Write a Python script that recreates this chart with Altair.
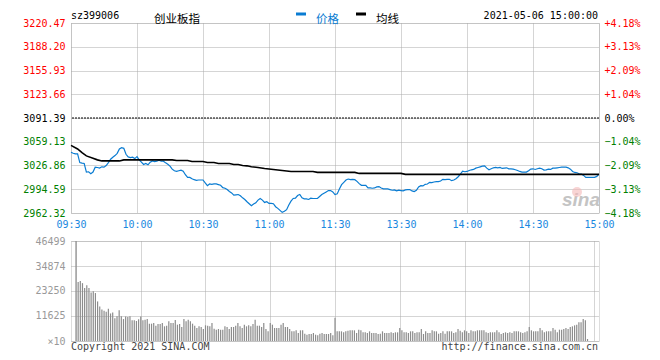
import altair as alt
import pandas as pd

# ---------------- data ----------------
prev_close = 3091.39
price_ticks = [2962.32, 2994.59, 3026.86, 3059.13, 3091.39, 3123.66, 3155.93, 3188.20, 3220.47]
pct_ticks = [-4.18, -3.13, -2.09, -1.04, 0.0, 1.04, 2.09, 3.13, 4.18]
time_ticks = [0, 30, 60, 90, 120, 150, 180, 210, 240]
time_labels = ["09:30", "10:00", "10:30", "11:00", "11:30", "13:30", "14:00", "14:30", "15:00"]
vol_ticks = [0, 11625, 23250, 34874, 46499]

minutes = list(range(241))
price = [
    3044.79, 3043.44, 3042.55, 3042.55, 3030.89, 3030.00, 3029.55, 3017.90, 3018.35, 3015.66,
    3017.90, 3024.62, 3024.17, 3023.28, 3025.07, 3024.62, 3026.86, 3030.89, 3035.38, 3038.07,
    3040.31, 3043.44, 3049.27, 3051.06, 3050.17, 3042.10, 3038.51, 3037.62, 3038.07, 3036.27,
    3038.96, 3034.48, 3031.34, 3028.21, 3029.55, 3027.76, 3031.34, 3033.14, 3032.24, 3032.69,
    3034.03, 3032.69, 3032.69, 3030.45, 3028.65, 3025.97, 3021.93, 3019.69, 3018.79, 3019.69,
    3020.59, 3019.24, 3014.31, 3010.73, 3010.73, 3008.93, 3007.59, 3006.69, 3007.14, 3007.14,
    3007.14, 3003.11, 2999.52, 3001.76, 3001.32, 3001.76, 3001.76, 3000.87, 2999.97, 2996.83,
    2995.94, 2994.14, 2991.45, 2989.66, 2986.52, 2986.97, 2987.42, 2985.63, 2982.94, 2980.70,
    2977.56, 2974.87, 2972.18, 2974.42, 2976.22, 2979.80, 2982.04, 2979.80, 2976.66, 2977.56,
    2975.32, 2975.32, 2974.87, 2970.84, 2968.60, 2965.91, 2963.22, 2964.56, 2966.80, 2973.08,
    2978.46, 2982.04, 2982.49, 2986.08, 2987.42, 2982.94, 2981.59, 2981.59, 2980.70, 2982.49,
    2982.04, 2982.04, 2982.04, 2984.73, 2987.42, 2989.21, 2991.00, 2992.80, 2992.80, 2991.00,
    2987.42, 2988.31, 2995.04, 3000.87, 3004.01, 3007.14, 3008.48, 3007.59, 3008.04, 3007.59,
    3005.35, 3002.21, 2999.97, 2999.97, 2999.97, 2996.38, 2996.38, 2995.94, 2996.38, 2997.73,
    2998.18, 2996.38, 2995.04, 2995.04, 2995.04, 2994.14, 2993.25, 2993.70, 2992.35, 2993.25,
    2992.80, 2992.35, 2993.70, 2994.14, 2994.14, 2992.35, 2991.45, 2993.25, 2997.73, 2999.52,
    2999.07, 3001.32, 3001.76, 3004.01, 3003.56, 3004.45, 3004.90, 3004.90, 3005.80, 3008.04,
    3007.59, 3008.04, 3008.04, 3006.25, 3007.14, 3008.93, 3011.62, 3015.21, 3019.24, 3018.35,
    3018.79, 3020.14, 3021.03, 3021.48, 3023.28, 3024.17, 3025.07, 3025.97, 3026.41, 3023.28,
    3021.03, 3022.38, 3023.72, 3024.17, 3023.72, 3024.17, 3022.83, 3023.28, 3023.72, 3022.38,
    3022.38, 3021.93, 3021.03, 3020.14, 3018.79, 3017.90, 3017.90, 3017.90, 3019.69, 3021.93,
    3022.38, 3021.48, 3022.38, 3023.28, 3022.38, 3020.59, 3021.03, 3021.93, 3021.48, 3023.28,
    3023.28, 3023.72, 3024.17, 3024.62, 3024.62, 3024.62, 3023.72, 3021.93, 3018.79, 3017.45,
    3017.00, 3015.66, 3015.21, 3013.42, 3010.73, 3010.73, 3010.73, 3010.73, 3010.73, 3012.07,
    3015.21,
]

avg_minutes = [0, 3, 5, 7, 10, 12, 14, 22, 24, 46, 48, 53, 55, 60, 62, 65, 67, 72, 74, 76,
               78, 80, 82, 85, 88, 92, 96, 100, 110, 112, 129, 131, 150, 152, 240]
avg_values = [3054.2, 3049.3, 3044.3, 3039.9, 3036.7, 3034.5, 3033.1, 3033.1, 3034.5, 3034.5,
              3033.6, 3033.6, 3032.2, 3032.2, 3030.9, 3030.9, 3029.6, 3029.6, 3028.2, 3028.2,
              3026.9, 3026.4, 3025.1, 3024.2, 3022.8, 3021.5, 3020.1, 3018.8, 3018.8, 3017.5,
              3017.5, 3016.1, 3016.1, 3014.8, 3014.8]

volume = [
    46499,
    27400, 27900, 26900, 24600, 25900, 24600, 22600, 23100, 22300, 18400,
    16000, 14600, 14100, 13600, 15000, 12800, 13300, 10600, 11500, 14300,
    11500, 10200, 11400, 11200, 11500, 9600, 9700, 9300, 10100, 11400,
    9610, 9900, 10230, 8060, 8060, 8370, 7130, 7900, 7900, 8370,
    6820, 7130, 9145, 8370, 8370, 9765, 7595, 7900, 6510, 10230,
    9145, 9920, 9145, 8060, 7130, 6045, 6820, 6510, 5580, 7285,
    7130, 6820, 8370, 5735, 5270, 5580, 5270, 5270, 6820, 6510,
    5580, 6510, 6510, 7130, 8370, 6820, 6045, 7595, 6820, 7285,
    6820, 7900, 9920, 7130, 7130, 6510, 8370, 5580, 4495, 8370,
    7595, 6045, 6045, 6045, 7595, 8370, 6510, 6510, 5580, 4495,
    4495, 4960, 3720, 4960, 4960, 3410, 2945, 3255, 3255, 3720,
    2945, 2635, 3410, 3720, 3255, 3255, 3255, 3720, 2635, 10850,
    4495, 4495, 4495, 4030, 4495, 4805, 4960, 4960, 4960, 3720,
    5270, 4960, 4030, 4030, 3720, 4495, 3720, 3720, 3720, 3255,
    3410, 4495, 3720, 3720, 3720, 4030, 3720, 4030, 4030, 6045,
    4960, 4030, 4030, 3720, 4495, 4495, 3720, 4030, 4030, 5580,
    3255, 4495, 3720, 3720, 4960, 4495, 4495, 3410, 3720, 4495,
    3410, 4495, 4495, 4495, 3720, 4030, 5580, 4805, 4030, 4960,
    4495, 3720, 4960, 4495, 4495, 4960, 4960, 4960, 4960, 4030,
    3720, 4030, 4030, 4030, 4960, 4030, 3255, 3720, 4030, 3720,
    4030, 3720, 4495, 4495, 4495, 4030, 3720, 4030, 4495, 6510,
    4960, 4495, 4495, 4495, 6045, 4960, 4030, 4495, 4495, 4495,
    6045, 5270, 4030, 5270, 5270, 5580, 6045, 5580, 6510, 6820,
    7285, 7595, 8680, 8680, 10230, 9610, 930, 0, 0, 0,
]

# ---------------- styling ----------------
MONO = "DejaVu Sans Mono"
CJK = "Noto Sans CJK SC"
BLUE = "#0a7cd2"
LBLUE = "#1a88e0"
RED = "#ff0000"
GREEN = "#008000"
GRID = "#aaaaaa"
W, H_TOP, H_VOL = 528, 190, 100

price_df = pd.DataFrame({"m": minutes, "price": price})
avg_df = pd.DataFrame({"m": avg_minutes, "avg": avg_values})
vol_df = pd.DataFrame({"m": minutes, "vol": volume})

x_scale = alt.Scale(domain=[0, 240], nice=False, zero=False)
y_scale = alt.Scale(domain=[price_ticks[0], price_ticks[-1]], nice=False, zero=False)

label_arr = "[" + ",".join("'%s'" % t for t in time_labels) + "]"

x_axis_top = alt.Axis(values=time_ticks, labelExpr=label_arr + "[round(datum.value/30)]",
                      labelColor=LBLUE, labelFont=MONO, labelFontSize=10, labelPadding=6,
                      ticks=False, domain=False, grid=True, gridColor=GRID, gridDash=[1, 1],
                      labelFlush=False, labelOverlap=False, title=None)
x_axis_vol = alt.Axis(values=time_ticks, labels=False, ticks=False, domain=False, grid=True,
                      gridColor=GRID, gridDash=[1, 1], title=None)

left_color = {"condition": [{"test": "datum.value > %.3f" % (prev_close + 0.01), "value": RED},
                            {"test": "datum.value > %.3f" % (prev_close - 0.01), "value": "#000000"}],
              "value": GREEN}
right_color = {"condition": [{"test": "datum.value > 0.001", "value": RED},
                             {"test": "datum.value > -0.001", "value": "#000000"}],
               "value": GREEN}

y_axis_left = alt.Axis(values=price_ticks, format=".2f", labelColor=left_color, labelFont=MONO,
                       labelFontSize=10, labelPadding=6, ticks=False, domain=False, grid=True,
                       gridColor=GRID, gridDash=[1, 1], labelFlush=False, labelOverlap=False,
                       labelSeparation=0, title=None)


def one(**kw):
    return pd.DataFrame({k: [v] for k, v in kw.items()})


price_line = alt.Chart(price_df).mark_line(color=BLUE, strokeWidth=1.2).encode(
    x=alt.X("m:Q", scale=x_scale, axis=x_axis_top),
    y=alt.Y("price:Q", scale=y_scale, axis=y_axis_left),
)
avg_line = alt.Chart(avg_df).mark_line(color="#000000", strokeWidth=1.6).encode(
    x=alt.X("m:Q", scale=x_scale, axis=x_axis_top),
    y=alt.Y("avg:Q", scale=y_scale, axis=y_axis_left),
)
base_rule = alt.Chart(one(v=prev_close)).mark_rule(color="#000000", strokeDash=[2, 1], strokeWidth=1).encode(
    y=alt.Y("v:Q", scale=y_scale, axis=y_axis_left)
)


def txt(text, x, y, **kw):
    return alt.Chart(one(t=text)).mark_text(**kw).encode(
        text="t:N", x=alt.value(x), y=alt.value(y))


texts = [
    txt("sz399006", 0, -4, font=MONO, fontSize=10, align="left", baseline="alphabetic", color="#000000"),
    txt("创业板指", 106, -0.5, font=CJK, fontSize=11.5, align="center", baseline="alphabetic", color="#000000"),
    txt("价格", 245, -0.5, font=CJK, fontSize=11.5, align="left", baseline="alphabetic", color=BLUE),
    txt("均线", 305, -0.5, font=CJK, fontSize=11.5, align="left", baseline="alphabetic", color="#000000"),
    txt("2021-05-06 15:00:00", 527, -4, font=MONO, fontSize=10, align="right", baseline="alphabetic", color="#000000"),
    txt("sina", 510, 183, font="Liberation Sans", fontSize=19, fontStyle="italic", fontWeight="bold",
        align="center", baseline="alphabetic", color="#c4c4c4"),
]
legend_marks = [
    alt.Chart(one(a=0)).mark_rule(color=BLUE, strokeWidth=3).encode(
        x=alt.value(225), x2=alt.value(235), y=alt.value(-9)),
    alt.Chart(one(a=0)).mark_rule(color="#000000", strokeWidth=3).encode(
        x=alt.value(285), x2=alt.value(295), y=alt.value(-9)),
    alt.Chart(one(a=0)).mark_point(filled=True, color="#f4b8b8", opacity=0.6, size=100).encode(
        x=alt.value(506), y=alt.value(169)),
    # invisible anchor that fixes the chart's outer extent (left / top)
    alt.Chart(one(a=0)).mark_rect(opacity=0).encode(
        x=alt.value(-62), x2=alt.value(-61), y=alt.value(-14), y2=alt.value(-13)),
]

top_main = alt.layer(price_line, avg_line, base_rule, *texts, *legend_marks)

right_axis = alt.Chart(pd.DataFrame({"pct": pct_ticks})).mark_point(opacity=0).encode(
    x=alt.value(0),
    y=alt.Y("pct:Q", scale=alt.Scale(domain=[-4.18, 4.18], nice=False, zero=False),
            axis=alt.Axis(orient="right", values=pct_ticks,
                          labelExpr="(datum.value > 0.001 ? '+' : '') + format(datum.value, '.2f') + '%'",
                          labelColor=right_color, labelFont=MONO, labelFontSize=10, labelPadding=5,
                          ticks=False, domain=False, grid=False, labelFlush=False,
                          labelOverlap=False, title=None)),
)

top = alt.layer(top_main, right_axis).resolve_scale(y="independent").properties(width=W, height=H_TOP)

vol_bars = alt.Chart(vol_df).mark_bar(color="#8c8c8c", size=1.2).encode(
    x=alt.X("m:Q", scale=x_scale, axis=x_axis_vol),
    y=alt.Y("vol:Q", scale=alt.Scale(domain=[0, 46499], nice=False, zero=True),
            axis=alt.Axis(values=vol_ticks,
                          labelExpr="datum.value == 0 ? '×10' : format(datum.value, 'd')",
                          labelColor="#999999", labelFont=MONO, labelFontSize=10, labelPadding=6,
                          ticks=False, domain=False, grid=True, gridColor=GRID, gridDash=[1, 1],
                          labelFlush=False, labelOverlap=False, title=None)),
)
vol_texts = [
    txt("Copyright 2021 SINA.COM", 0, 109, font=MONO, fontSize=10, align="left", baseline="alphabetic", color="#444444"),
    txt("http://finance.sina.com.cn", 527, 109, font=MONO, fontSize=10, align="right", baseline="alphabetic", color="#444444"),
]
vol = alt.layer(vol_bars, *vol_texts).properties(width=W, height=H_VOL)

chart = alt.vconcat(top, vol, spacing=28, bounds="flush").properties(
    padding=0
).configure_view(stroke="#a0a0a0", strokeWidth=1).configure_axis(
    labelOverlap=False
).configure(background="#ffffff")

chart.save("out.html", embed_options={"renderer": "svg", "actions": False})
